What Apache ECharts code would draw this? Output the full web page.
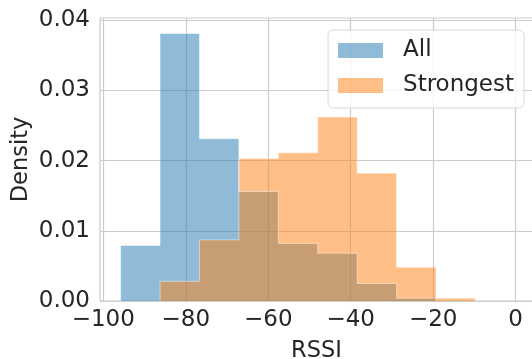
<!DOCTYPE html>
<html>
<head>
<meta charset="utf-8">
<script src="https://cdn.jsdelivr.net/npm/echarts@6/dist/echarts.min.js"></script>
<style>
  html, body { margin: 0; padding: 0; background: #fff; }
  #chart { width: 532px; height: 359px; }
</style>
</head>
<body>
<div id="chart"></div>
<script>
// histogram bins (RSSI)
const allEdges = [-95.8, -86.24, -76.68, -67.12, -57.56, -48.0, -38.44, -28.88, -19.32];
const allDensity = [0.0079, 0.0381, 0.0231, 0.0156, 0.0082, 0.0068, 0.0025, 0.0004];
const strongestEdges = [-86.24, -76.68, -67.12, -57.56, -48.0, -38.44, -28.88, -19.32, -9.76];
const strongestDensity = [0.0028, 0.0087, 0.0203, 0.0211, 0.0262, 0.0182, 0.0048, 0.0004];
const xTicks = [-100, -80, -60, -40, -20, 0];
const yTicks = [0, 0.01, 0.02, 0.03, 0.04];

// step outline of a histogram: rise at the first edge, flat over each bin, drop at the last edge
function stepPoints(edges, dens) {
    let pts = [[edges[0], 0]];
    for (let i = 0; i < dens.length; i++) {
        pts.push([edges[i], dens[i]]);
    }
    let last = edges[edges.length - 1];
    pts.push([last, dens[dens.length - 1]]);
    pts.push([last, 0]);
    return pts;
}

function histSeries(name, color, edges, dens) {
    return {
        name: name, type: 'line', step: 'end',
        data: stepPoints(edges, dens),
        showSymbol: false, symbol: 'none',
        itemStyle: { color: color },
        lineStyle: { color: 'rgba(255,255,255,0.45)', width: 1 },
        areaStyle: { color: color, opacity: 1, origin: 'start' }
    };
}

const font = 'DejaVu Sans';
let chart = echarts.init(document.getElementById('chart'));
chart.setOption({
    animation: false,
    grid: {
        left: 100, right: -1, top: 18, bottom: 58,
        outerBoundsMode: 'none', containLabel: false,
        show: true, borderColor: '#cccccc', borderWidth: 1.2
    },
    legend: {
        right: 8, top: 30,
        orient: 'vertical',
        data: ['All', 'Strongest'],
        icon: 'rect',
        itemWidth: 45, itemHeight: 15, itemGap: 12,
        padding: [9, 10, 11, 10],
        backgroundColor: 'rgba(255,255,255,0.8)',
        borderColor: '#d8d8d8', borderWidth: 1, borderRadius: 5,
        textStyle: { fontFamily: font, fontSize: 23, color: '#262626', lineHeight: 22, padding: [0, 0, 0, 15] }
    },
    xAxis: {
        type: 'value', min: -100.8, max: 4.2,
        name: 'RSSI', nameLocation: 'middle', nameGap: 39, nameMoveOverlap: false,
        nameTextStyle: { fontFamily: font, fontSize: 22.5, color: '#262626' },
        axisLine: { show: false }, axisTick: { show: false, customValues: xTicks },
        axisLabel: {
            customValues: xTicks, margin: 8,
            fontFamily: font, fontSize: 23, color: '#262626',
            formatter: v => String(v).replace('-', '\u2212')
        },
        splitLine: { show: true, customValues: xTicks, lineStyle: { color: '#cccccc', width: 1.2 } }
    },
    yAxis: {
        type: 'value', min: 0, max: 0.0403,
        name: 'Density', nameLocation: 'middle', nameGap: 67, nameMoveOverlap: false,
        nameTextStyle: { fontFamily: font, fontSize: 22.5, color: '#262626' },
        axisLine: { show: false }, axisTick: { show: false, customValues: yTicks },
        axisLabel: {
            customValues: yTicks, margin: 10,
            fontFamily: font, fontSize: 23, color: '#262626',
            formatter: v => v.toFixed(2)
        },
        splitLine: { show: true, customValues: yTicks, lineStyle: { color: '#cccccc', width: 1.2 } }
    },
    series: [
        histSeries('All', 'rgba(31,119,180,0.5)', allEdges, allDensity),
        histSeries('Strongest', 'rgba(255,127,14,0.5)', strongestEdges, strongestDensity)
    ]
});
</script>
</body>
</html>
